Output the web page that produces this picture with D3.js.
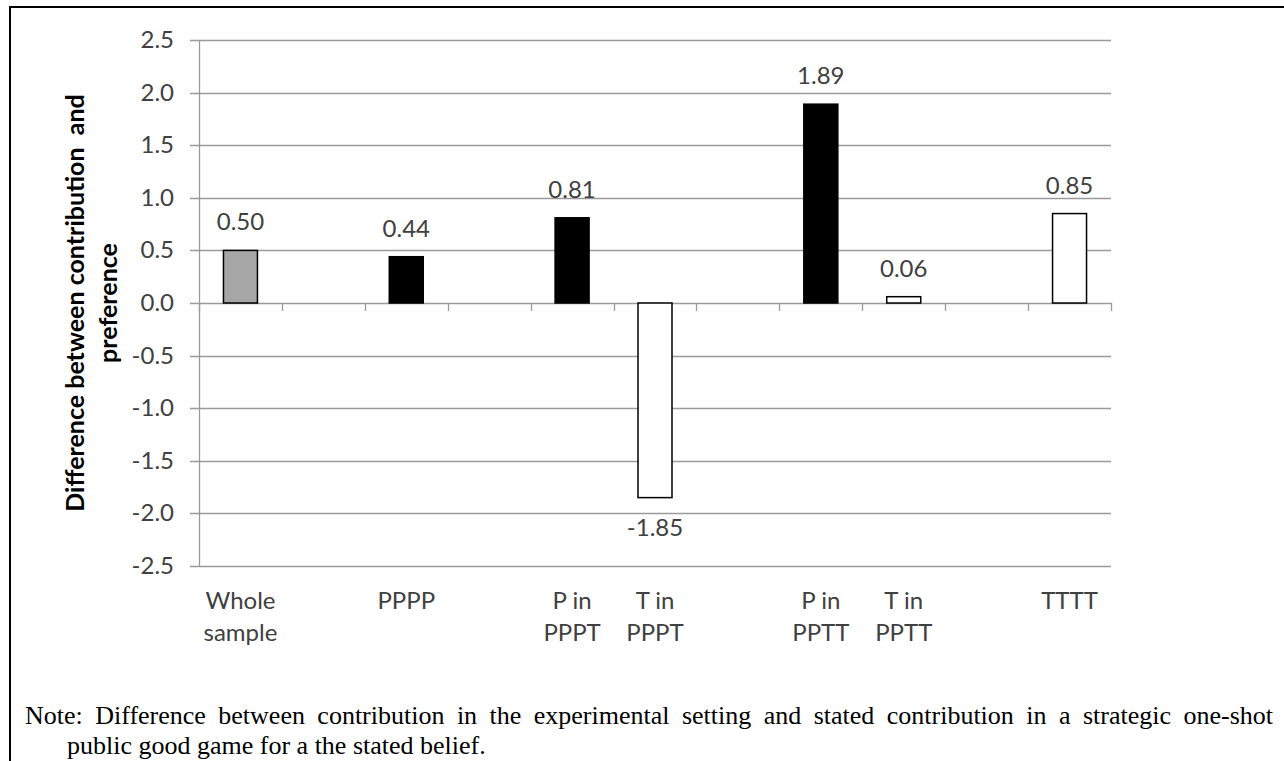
<!DOCTYPE html>
<html>
<head>
<meta charset="utf-8">
<script src="https://cdn.jsdelivr.net/npm/d3@7"></script>
<style>
  body { margin: 0; background: #fff; }
  svg { display: block; }
</style>
</head>
<body>
<div id="chart"></div>
<script>
// Data
var categories = [
  ["Whole", "sample"], [""], ["PPPP"], [""],
  ["P in", "PPPT"], ["T in", "PPPT"], [""],
  ["P in", "PPTT"], ["T in", "PPTT"], [""], ["TTTT"]
];
var values = [0.50, null, 0.44, null, 0.81, -1.85, null, 1.89, 0.06, null, 0.85];
var valueLabels = ["0.50", "", "0.44", "", "0.81", "-1.85", "", "1.89", "0.06", "", "0.85"];
var fills = ["#a6a6a6", null, "#000000", null, "#000000", "#ffffff", null, "#000000", "#ffffff", null, "#ffffff"];
var yTicks = [2.5, 2.0, 1.5, 1.0, 0.5, 0.0, -0.5, -1.0, -1.5, -2.0, -2.5];
var yTitle = ["Difference between contribution  and", "preference"];
var noteLines = [
  "Note: Difference between contribution in the experimental setting and stated contribution in a strategic one-shot",
  "public good game for a the stated belief."
];

var W = 1284, H = 761;
var margin = { top: 40, right: 173, bottom: 195, left: 199 };
var width = W - margin.left - margin.right,
  height = H - margin.top - margin.bottom;

var svg = d3.select("#chart").append("svg")
  .attr("width", W)
  .attr("height", H);

// Frame (top and left edges only are visible)
svg.append("line").attr("x1", 9).attr("x2", W).attr("y1", 7).attr("y2", 7)
  .attr("stroke", "#000").attr("stroke-width", 2);
svg.append("line").attr("x1", 10).attr("x2", 10).attr("y1", 6).attr("y2", H)
  .attr("stroke", "#000").attr("stroke-width", 2);

var g = svg.append("g")
  .attr("transform", "translate(" + margin.left + "," + margin.top + ")");

var x = d3.scaleBand()
  .domain(d3.range(categories.length))
  .range([0, width])
  .paddingInner(0.59)
  .paddingOuter(0.295);

var xBand = d3.scaleBand()
  .domain(d3.range(categories.length))
  .range([0, width]);

var y = d3.scaleLinear().domain([-2.5, 2.5]).range([height, 0]);

var gridColor = "#9a9a9a";
var textColor = "#404040";
var font = "Lato, 'Open Sans', sans-serif";
var fontSize = 24;

// Gridlines
g.append("g").selectAll("line")
  .data(yTicks)
  .join("line")
  .attr("x1", -9)
  .attr("x2", width)
  .attr("y1", (d) => Math.round(y(d)) + 0.5)
  .attr("y2", (d) => Math.round(y(d)) + 0.5)
  .attr("stroke", gridColor)
  .attr("stroke-width", 1.3);

// Y axis line
g.append("line")
  .attr("x1", 0.5).attr("x2", 0.5)
  .attr("y1", 0).attr("y2", height)
  .attr("stroke", gridColor).attr("stroke-width", 1.3);

// Category tick marks on the zero line
var bounds = d3.range(categories.length + 1).map((i) => i === categories.length ? width : xBand(i));
g.append("g").selectAll("line")
  .data(bounds)
  .join("line")
  .attr("x1", (d) => Math.round(d) + 0.5)
  .attr("x2", (d) => Math.round(d) + 0.5)
  .attr("y1", y(0))
  .attr("y2", y(0) + 8)
  .attr("stroke", gridColor)
  .attr("stroke-width", 1.3);

// Y tick labels
g.append("g").selectAll("text")
  .data(yTicks)
  .join("text")
  .attr("x", -25)
  .attr("y", (d) => y(d) + 8)
  .attr("text-anchor", "end")
  .attr("font-family", font)
  .attr("font-size", fontSize)
  .attr("fill", textColor)
  .text((d) => d3.format(".1f")(d).replace("−", "-"));

// Bars
var barData = values.map((v, i) => ({ i: i, v: v })).filter((d) => d.v !== null);

g.append("g").selectAll("rect")
  .data(barData)
  .join("rect")
  .attr("x", (d) => x(d.i))
  .attr("width", x.bandwidth())
  .attr("y", (d) => y(Math.max(0, d.v)))
  .attr("height", (d) => Math.abs(y(d.v) - y(0)))
  .attr("fill", (d) => fills[d.i])
  .attr("stroke", "#000")
  .attr("stroke-width", 1.5);

// Value labels
g.append("g").selectAll("text")
  .data(barData)
  .join("text")
  .attr("x", (d) => x(d.i) + x.bandwidth() / 2)
  .attr("y", (d) => d.v >= 0 ? y(d.v) - 20 : y(d.v) + 38)
  .attr("text-anchor", "middle")
  .attr("font-family", font)
  .attr("font-size", fontSize)
  .attr("fill", textColor)
  .text((d) => valueLabels[d.i]);

// Category labels
var cat = g.append("g").selectAll("text")
  .data(categories)
  .join("text")
  .attr("x", (d, i) => xBand(i) + xBand.bandwidth() / 2)
  .attr("y", height + 43)
  .attr("text-anchor", "middle")
  .attr("font-family", font)
  .attr("font-size", fontSize)
  .attr("fill", textColor);

cat.selectAll("tspan")
  .data((d) => d)
  .join("tspan")
  .attr("x", function () { return d3.select(this.parentNode).attr("x"); })
  .attr("dy", (d, i) => i === 0 ? 0 : 32)
  .text((d) => d);

// Y axis title
svg.append("text")
  .attr("transform", "translate(84," + (margin.top + height / 2) + ") rotate(-90)")
  .attr("text-anchor", "middle")
  .attr("font-family", font)
  .attr("font-weight", "bold")
  .attr("font-size", 25)
  .attr("fill", "#000")
  .selectAll("tspan")
  .data(yTitle)
  .join("tspan")
  .attr("x", 0)
  .attr("dy", (d, i) => i === 0 ? 0 : 33)
  .style("white-space", "pre")
  .text((d) => d);

// Note, first line justified between fixed edges
var noteFont = "'Liberation Serif', 'Times New Roman', serif";
var noteLeft = 25, noteRight = 1273, noteSize = 26;
var words = noteLines[0].split(" ");
var line1 = svg.append("text")
  .attr("y", 724)
  .attr("font-family", noteFont)
  .attr("font-size", noteSize)
  .attr("fill", "#000");
var spans = line1.selectAll("tspan").data(words).join("tspan").text((d) => d);
var widths = [];
spans.each(function () { widths.push(this.getComputedTextLength()); });
var gap = (noteRight - noteLeft - d3.sum(widths)) / (words.length - 1);
var cx = noteLeft;
spans.attr("x", (d, i) => {
  var pos = cx;
  cx += widths[i] + gap;
  return pos;
});

svg.append("text")
  .attr("x", 67)
  .attr("y", 754)
  .attr("font-family", noteFont)
  .attr("font-size", noteSize)
  .attr("fill", "#000")
  .text(noteLines[1]);
</script>
</body>
</html>
